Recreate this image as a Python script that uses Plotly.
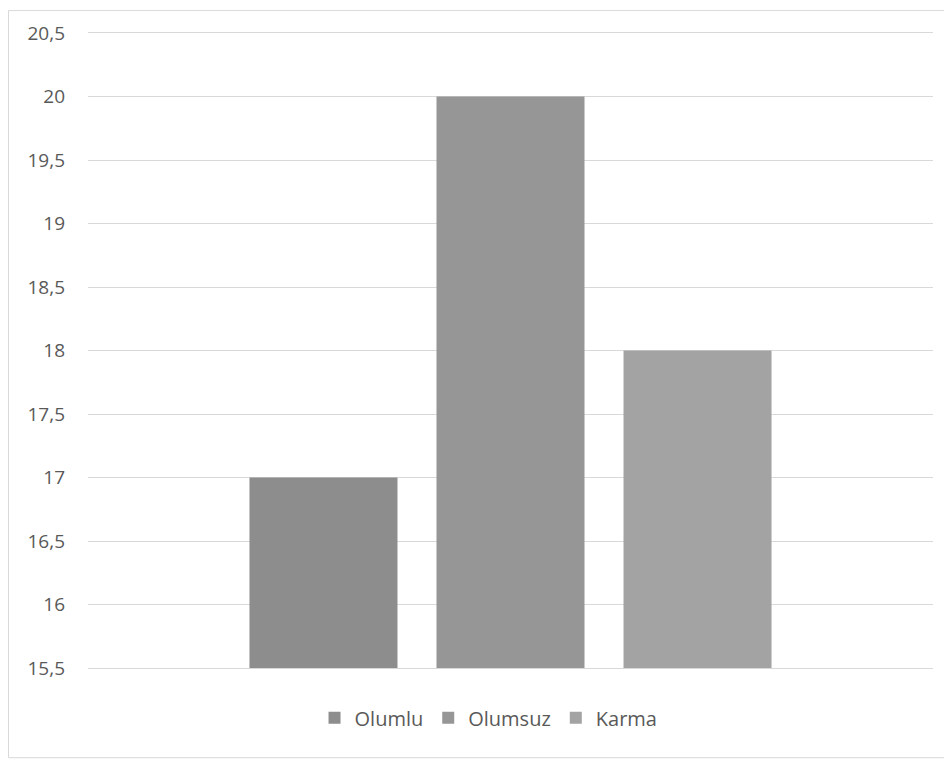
import plotly.graph_objects as go

series_names = ["Olumlu", "Olumsuz", "Karma"]
series_values = [17, 20, 18]
series_colors = ["#8d8d8d", "#969696", "#a3a3a3"]
category = ["1"]
tick_values = [15.5, 16, 16.5, 17, 17.5, 18, 18.5, 19, 19.5, 20, 20.5]
tick_labels = ["15,5", "16", "16,5", "17", "17,5", "18", "18,5", "19", "19,5", "20", "20,5"]

fig = go.Figure()
for name, val, col in zip(series_names, series_values, series_colors):
    fig.add_trace(go.Bar(x=category, y=[val], name=name, marker=dict(color=col, line=dict(width=0))))

# page body has an 8px default margin: figure coords = screen coords - 8
W, H = 944, 753
L, R, T, B = 80, 19, 23, 93
pw, ph = W - L - R, H - T - B

def px(x):
    return (x - L) / pw

def py(y):
    return (H - B - y) / ph

fig.update_layout(
    width=W, height=H,
    margin=dict(l=L, r=R, t=T, b=B),
    paper_bgcolor="white", plot_bgcolor="white",
    barmode="group", bargap=0.336, bargroupgap=0.2086,
    font=dict(family="Open Sans, Liberation Sans, sans-serif", size=19, color="#595959"),
    showlegend=True,
    legend=dict(orientation="h", x=0.474, xanchor="center", y=py(710), yanchor="middle",
                font=dict(size=20, color="#595959"), itemwidth=30, traceorder="normal"),
    xaxis=dict(showticklabels=False, showgrid=False, zeroline=False,
               showline=True, mirror=True, linecolor="#d9d9d9", linewidth=1),
    yaxis=dict(range=[15.5, 20.5], tickvals=tick_values, ticktext=tick_labels,
               showgrid=True, gridcolor="#d9d9d9", gridwidth=1, zeroline=False,
               showline=False, ticks="", ticklabelstandoff=22,
               tickfont=dict(size=19, color="#595959")),
    shapes=[dict(type="rect", xref="paper", yref="paper",
                 x0=px(0.5), x1=px(943.5), y0=py(750), y1=py(0.5),
                 line=dict(color="#d9d9d9", width=1), fillcolor="rgba(0,0,0,0)", layer="below")],
)

fig.write_html("out.html")
